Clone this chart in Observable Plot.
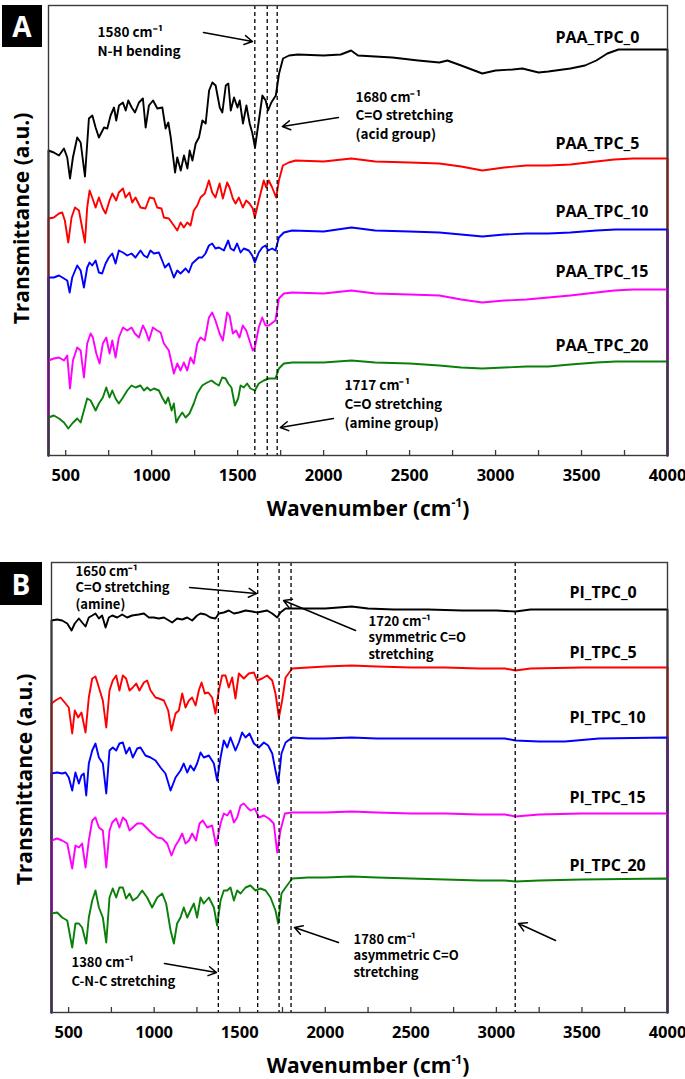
<!DOCTYPE html>
<html><head><meta charset="utf-8">
<script src="https://cdn.jsdelivr.net/npm/d3@7"></script>
<script src="https://cdn.jsdelivr.net/npm/@observablehq/plot@0.6"></script>
<style>
body{margin:0;background:#fff;}
#root{position:relative;width:685px;height:1079px;overflow:hidden;font-family:"Open Sans",sans-serif;}
.panel{position:absolute;left:0;}
.tag{position:absolute;background:#000;color:#fff;font-weight:bold;font-size:28px;display:flex;align-items:center;justify-content:center;font-family:"Open Sans",sans-serif;}
.xtitle{position:absolute;font-weight:bold;font-size:21px;white-space:nowrap;transform:translate(-50%,-50%);font-family:"Open Sans",sans-serif;}
.xtitle sup{font-size:12px;vertical-align:9px;line-height:0;}
</style></head><body><div id="root"></div>
<script>
// ---------- data ----------
const xDomain = [400, 4000];
const xTickLabels = [500, 1000, 1500, 2000, 2500, 3000, 3500, 4000];
const xMinorTicks = [500, 750, 1000, 1250, 1500, 1750, 2000, 2250, 2500, 2750, 3000, 3250, 3500, 3750];

// Panel A: PAA_TPC spectra [wavenumber, transmittance (a.u., offset)]
const paa0 = [[400,305],[431,303],[461,300],[490,307],[509,298],[525,277],[542,298],[567,318],[587,313],[612,279],[635,337],[655,340],[674,328],[693,318],[723,328],[742,327],[761,340],[781,348],[794,335],[810,350],[833,353],[849,345],[864,355],[884,348],[903,343],[926,353],[949,357],[965,328],[984,350],[1008,355],[1033,347],[1062,348],[1081,327],[1097,333],[1111,318],[1136,283],[1149,298],[1169,285],[1188,300],[1208,287],[1221,305],[1237,295],[1256,312],[1275,318],[1295,335],[1314,332],[1334,365],[1353,373],[1372,370],[1396,348],[1411,343],[1431,370],[1446,372],[1460,345],[1479,358],[1499,348],[1512,355],[1531,332],[1551,350],[1570,332],[1586,322],[1601,308],[1621,332],[1644,360],[1663,355],[1677,345],[1696,353],[1722,360],[1741,382],[1764,397],[1799,400],[1850,401],[2000,400],[2100,401],[2160,405],[2200,400],[2400,398],[2550,395],[2673,393],[2720,395],[2800,390],[2923,382],[3000,385],[3100,386],[3156,387],[3250,383],[3307,384],[3435,387],[3520,390],[3586,395],[3650,402],[3715,406],[4000,406]];
const paa5 = [[400,237],[431,238],[461,242],[480,243],[495,235],[515,213],[534,238],[554,248],[577,245],[612,213],[625,248],[639,265],[654,258],[674,248],[693,258],[716,247],[732,242],[755,255],[771,262],[794,255],[809,263],[833,267],[848,258],[871,263],[887,253],[906,258],[935,248],[964,247],[988,258],[1013,257],[1032,248],[1057,247],[1071,238],[1100,237],[1129,230],[1149,225],[1168,233],[1187,228],[1207,233],[1226,230],[1245,245],[1265,250],[1284,258],[1309,262],[1333,275],[1352,263],[1371,258],[1395,272],[1414,257],[1439,273],[1453,268],[1472,257],[1488,252],[1507,258],[1530,248],[1550,255],[1569,252],[1588,247],[1600,238],[1623,255],[1652,275],[1666,268],[1681,275],[1701,268],[1724,258],[1740,275],[1763,290],[1798,293],[1837,295],[2000,294],[2162,297],[2300,294],[2500,293],[2673,292],[2800,289],[2923,285],[3050,288],[3179,290],[3307,290],[3435,291],[3586,294],[3691,296],[3800,297],[4000,297]];
const paa10 = [[400,178],[431,178],[461,180],[490,177],[509,175],[523,163],[538,178],[567,190],[587,185],[606,168],[625,188],[639,193],[654,190],[674,195],[693,183],[712,182],[732,192],[751,198],[771,202],[790,192],[809,205],[833,203],[858,200],[883,202],[906,198],[935,205],[955,200],[974,198],[993,205],[1013,202],[1042,203],[1061,195],[1077,188],[1100,192],[1129,178],[1149,185],[1168,182],[1197,187],[1216,183],[1236,192],[1255,195],[1274,198],[1294,198],[1313,202],[1333,210],[1352,212],[1371,207],[1391,208],[1420,205],[1445,215],[1459,207],[1478,205],[1497,212],[1517,203],[1536,207],[1565,205],[1585,200],[1600,193],[1623,203],[1643,208],[1662,210],[1678,205],[1701,207],[1720,205],[1740,218],[1769,223],[1817,225],[2000,224],[2162,228],[2300,225],[2500,224],[2673,223],[2800,221],[2923,219],[3050,221],[3179,222],[3307,222],[3435,223],[3586,225],[3700,226],[4000,226]];
const paa15 = [[400,95],[431,97],[461,98],[490,95],[509,100],[525,67],[542,95],[567,108],[587,105],[606,78],[625,112],[645,122],[658,118],[678,102],[697,92],[716,112],[736,118],[755,102],[771,115],[790,98],[809,118],[833,128],[858,125],[883,128],[902,122],[926,118],[949,130],[964,125],[984,115],[1007,128],[1032,125],[1052,123],[1071,112],[1100,105],[1129,82],[1149,92],[1168,85],[1187,93],[1207,85],[1226,98],[1245,92],[1265,112],[1284,118],[1309,115],[1333,138],[1352,143],[1371,135],[1395,122],[1414,115],[1439,143],[1453,140],[1472,122],[1491,125],[1511,118],[1530,130],[1550,125],[1569,115],[1588,105],[1600,108],[1623,128],[1643,138],[1662,130],[1681,130],[1720,135],[1740,157],[1769,162],[1817,163],[2000,162],[2162,165],[2300,162],[2500,161],[2673,160],[2800,156],[2923,153],[3050,155],[3179,156],[3307,158],[3435,160],[3586,163],[3691,165],[3800,166],[4000,166]];
const paa20 = [[400,38],[431,40],[461,37],[490,33],[515,27],[538,32],[567,37],[587,33],[606,45],[625,57],[645,55],[674,45],[693,52],[716,58],[736,68],[755,58],[771,65],[790,57],[809,52],[833,58],[858,65],[883,70],[906,68],[935,70],[955,65],[974,68],[993,65],[1013,67],[1042,65],[1061,58],[1081,52],[1096,58],[1116,45],[1129,52],[1143,33],[1158,38],[1178,43],[1197,38],[1220,42],[1245,52],[1265,62],[1294,70],[1323,73],[1348,75],[1371,72],[1391,70],[1410,78],[1430,77],[1445,72],[1464,68],[1484,50],[1503,57],[1517,70],[1536,68],[1555,72],[1575,67],[1600,65],[1623,72],[1652,75],[1681,77],[1720,77],[1740,87],[1769,92],[1817,93],[2000,93],[2162,95],[2300,93],[2500,92],[2673,90],[2800,88],[2923,87],[3050,88],[3179,89],[3307,89],[3435,91],[3586,93],[3700,94],[4000,94]];

// Panel B: PI_TPC spectra
const pi0 = [[400,392],[433,393],[462,392],[492,389],[517,382],[536,389],[560,394],[579,390],[599,386],[618,395],[638,397],[657,399],[677,394],[696,397],[716,385],[735,395],[755,397],[784,395],[813,398],[842,395],[871,397],[910,398],[940,399],[969,395],[998,395],[1027,394],[1057,395],[1086,392],[1105,390],[1134,394],[1164,393],[1193,395],[1222,392],[1251,397],[1271,399],[1300,398],[1329,395],[1358,394],[1378,399],[1407,400],[1436,402],[1466,399],[1495,400],[1534,402],[1573,401],[1602,400],[1631,401],[1660,402],[1690,399],[1719,395],[1738,400],[1768,404],[1807,404],[1900,404],[2000,404],[2154,406],[2250,404],[2400,403],[2600,403],[2800,402],[3000,402],[3112,401],[3200,403],[3500,403],[4000,403]];
const pi5 = [[400,309],[423,312],[453,315],[482,309],[501,305],[521,279],[536,302],[556,295],[575,300],[599,280],[618,315],[638,334],[657,336],[677,325],[700,312],[720,285],[739,322],[758,332],[778,337],[797,322],[817,337],[836,334],[856,322],[875,325],[895,329],[914,322],[940,330],[959,332],[979,322],[1008,315],[1027,314],[1057,312],[1082,302],[1101,282],[1125,299],[1144,302],[1164,319],[1183,305],[1203,312],[1222,315],[1242,307],[1261,322],[1277,330],[1296,319],[1316,320],[1339,315],[1358,299],[1378,322],[1397,337],[1417,337],[1436,325],[1456,335],[1475,314],[1495,339],[1524,334],[1553,339],[1583,340],[1602,332],[1631,334],[1660,337],[1690,332],[1709,319],[1729,295],[1748,312],[1768,335],[1807,344],[1900,345],[2000,346],[2154,347],[2300,346],[2500,345],[2700,345],[2900,344],[3050,344],[3112,342],[3200,344],[3500,345],[3800,345],[4000,345]];
const pi10 = [[400,239],[433,240],[462,239],[482,240],[501,235],[521,222],[540,240],[560,229],[575,237],[589,239],[603,217],[618,249],[638,262],[657,269],[677,255],[700,249],[720,219],[739,262],[758,265],[778,262],[797,269],[817,270],[836,259],[856,265],[875,255],[901,264],[920,265],[949,257],[979,255],[1008,252],[1037,245],[1066,239],[1096,222],[1125,235],[1154,242],[1173,249],[1193,240],[1212,247],[1232,242],[1251,249],[1271,260],[1290,255],[1320,257],[1349,249],[1368,232],[1388,255],[1407,272],[1427,265],[1446,275],[1475,262],[1495,270],[1514,280],[1534,275],[1557,279],[1583,269],[1612,265],[1641,270],[1666,267],[1690,259],[1709,242],[1725,229],[1744,259],[1768,270],[1807,275],[1900,274],[2000,274],[2154,275],[2300,274],[2500,274],[2700,274],[2900,274],[3050,274],[3112,272],[3250,271],[3400,271],[3600,274],[4000,275]];
const pi15 = [[400,172],[433,174],[462,172],[492,169],[521,144],[540,167],[560,165],[579,169],[599,145],[618,172],[638,192],[657,195],[677,185],[700,182],[720,145],[739,182],[755,190],[778,194],[797,185],[817,195],[836,192],[856,182],[875,185],[901,189],[930,189],[959,184],[988,179],[1018,175],[1047,174],[1076,169],[1101,157],[1125,167],[1144,172],[1164,179],[1183,169],[1203,172],[1222,179],[1245,172],[1265,189],[1284,192],[1310,185],[1339,187],[1362,167],[1388,189],[1407,199],[1427,197],[1446,202],[1466,190],[1485,195],[1505,207],[1524,209],[1544,205],[1563,202],[1588,204],[1612,195],[1641,197],[1670,194],[1699,189],[1719,160],[1738,182],[1764,199],[1807,200],[1900,200],[2000,200],[2154,201],[2300,200],[2500,199],[2700,199],[2900,198],[3050,198],[3112,196],[3250,198],[3500,199],[4000,199]];
const pi20 = [[400,99],[433,100],[462,95],[492,92],[521,65],[540,89],[560,89],[579,85],[603,69],[618,95],[638,112],[657,122],[677,105],[700,95],[720,70],[739,115],[758,124],[778,115],[797,125],[817,125],[836,114],[856,119],[875,112],[901,115],[930,122],[959,115],[988,105],[1018,115],[1047,119],[1070,109],[1096,82],[1115,69],[1134,89],[1154,95],[1173,105],[1193,95],[1212,102],[1232,109],[1251,95],[1271,115],[1290,109],[1320,115],[1349,105],[1368,87],[1388,112],[1407,122],[1427,122],[1446,125],[1466,112],[1485,122],[1505,119],[1534,125],[1563,127],[1592,122],[1621,124],[1651,122],[1680,115],[1709,102],[1725,89],[1744,119],[1768,125],[1807,134],[1900,135],[2000,135],[2154,136],[2300,135],[2500,134],[2700,133],[2900,132],[3050,132],[3112,131],[3250,132],[3500,133],[4000,134]];

const colors = ["#000000", "#ff0000", "#0000ff", "#ff00ff", "#0a7f0a"];
const namesA = ["PAA_TPC_0", "PAA_TPC_5", "PAA_TPC_10", "PAA_TPC_15", "PAA_TPC_20"];
const namesB = ["PI_TPC_0", "PI_TPC_5", "PI_TPC_10", "PI_TPC_15", "PI_TPC_20"];
const labelYA = [418, 312, 244, 184, 110];
const labelYB = [420, 360, 295, 215, 147];
const dashesA = [1600, 1672, 1730];
const dashesB = [1375, 1605, 1730, 1800, 3110];

const notesA = [
  {x: 685, y: 423, t: "1580 cm⁻¹"}, {x: 685, y: 404, t: "N-H bending"},
  {x: 2185, y: 358, t: "1680 cm⁻¹"}, {x: 2185, y: 340, t: "C=O stretching"}, {x: 2185, y: 321, t: "(acid group)"},
  {x: 2121, y: 70, t: "1717 cm⁻¹"}, {x: 2121, y: 51, t: "C=O stretching"}, {x: 2121, y: 32, t: "(amine group)"}
];
const arrowsA = [
  {x1: 1301, y1: 423, x2: 1586, y2: 414},
  {x1: 2086, y1: 338, x2: 1760, y2: 329},
  {x1: 2057, y1: 37, x2: 1748, y2: 28}
];
const notesB = [
  {x: 540, y: 441, t: "1650 cm⁻¹"}, {x: 540, y: 424.5, t: "C=O stretching"}, {x: 540, y: 408, t: "(amine)"},
  {x: 2253, y: 391, t: "1720 cm⁻¹"}, {x: 2253, y: 374.5, t: "symmetric C=O"}, {x: 2253, y: 358, t: "stretching"},
  {x: 517, y: 50, t: "1380 cm⁻¹"}, {x: 517, y: 31, t: "C-N-C stretching"},
  {x: 2165, y: 73, t: "1780 cm⁻¹"}, {x: 2165, y: 56.5, t: "asymmetric C=O"}, {x: 2165, y: 40, t: "stretching"}
];
const arrowsB = [
  {x1: 1207, y1: 425, x2: 1598, y2: 419},
  {x1: 2177, y1: 382, x2: 1756, y2: 412},
  {x1: 1060, y1: 49, x2: 1364, y2: 40},
  {x1: 2077, y1: 70, x2: 1820, y2: 85},
  {x1: 3346, y1: 72, x2: 3129, y2: 89}
];

// ---------- drawing ----------
const FONT = '"Open Sans", sans-serif';
const withDrop = pts => [[xDomain[0], 0], ...pts, [xDomain[1], 0]];

function panel({series, names, labelY, labelX, dashes, notes, arrows, height, marginTop, marginBottom, marginLeft, yTitleY, noteSize}) {
  const labels = names.map((n, i) => ({n, y: labelY[i]}));
  return Plot.plot({
    width: 685, height, marginTop, marginBottom, marginLeft, marginRight: 18,
    x: {domain: xDomain},
    y: {domain: [0, 450], axis: null},
    style: {fontFamily: FONT, color: "#000", background: "transparent", overflow: "visible"},
    marks: [
      ...series.map((s, i) => Plot.line(withDrop(s), {x: d => d[0], y: d => d[1], stroke: colors[i], strokeWidth: 1.9, curve: "linear"})),
      Plot.ruleX(dashes, {stroke: "#000", strokeWidth: 1.3, strokeDasharray: "4,3"}),
      Plot.frame({stroke: "#3a3a3a", strokeWidth: 1.4}),
      Plot.ruleX(xMinorTicks, {y1: 0, y2: 5, stroke: "#3a3a3a", strokeWidth: 1.3}),
      Plot.axisX({ticks: xTickLabels, tickSize: 0, tickPadding: 14, fontSize: 16.5, fontWeight: "bold", label: null, tickFormat: d => String(d)}),
      Plot.text(labels, {x: labelX, y: "y", text: "n", textAnchor: "start", fontSize: 16, fontWeight: "bold"}),
      Plot.text(notes, {x: "x", y: "y", text: "t", textAnchor: "start", fontSize: noteSize, fontWeight: 600, fontFamily: '"Noto Sans CJK KR", "Open Sans", sans-serif'}),
      Plot.arrow(arrows, {x1: "x1", y1: "y1", x2: "x2", y2: "y2", stroke: "#000", strokeWidth: 1.5, headLength: 9}),
      Plot.text(["Transmittance (a.u.)"], {x: xDomain[0], y: yTitleY, dx: -26, rotate: -90, fontSize: 21, fontWeight: "bold"})
    ]
  });
}

const root = document.getElementById("root");

const a = panel({series: [paa0, paa5, paa10, paa15, paa20], names: namesA, labelY: labelYA, labelX: 3348,
  dashes: dashesA, notes: notesA, arrows: arrowsA, height: 530, marginTop: 5, marginBottom: 75, marginLeft: 48, yTitleY: 237, noteSize: 13.5});
a.classList.add("panel"); a.style.top = "0px";
root.appendChild(a);

const b = panel({series: [pi0, pi5, pi10, pi15, pi20], names: namesB, labelY: labelYB, labelX: 3427,
  dashes: dashesB, notes: notesB, arrows: arrowsB, height: 549, marginTop: 32, marginBottom: 67, marginLeft: 51, yTitleY: 233, noteSize: 13});
b.classList.add("panel"); b.style.top = "530px";
root.appendChild(b);

function addDiv(cls, html, css) {
  const d = document.createElement("div");
  d.className = cls; d.innerHTML = html; Object.assign(d.style, css);
  root.appendChild(d);
}
addDiv("tag", "A", {left: "2px", top: "5px", width: "40px", height: "42px"});
addDiv("tag", "B", {left: "0px", top: "562px", width: "42px", height: "43px"});
addDiv("xtitle", "Wavenumber (cm<sup>-1</sup>)", {left: "368px", top: "508px"});
addDiv("xtitle", "Wavenumber (cm<sup>-1</sup>)", {left: "368px", top: "1065px"});
</script>
</body></html>
